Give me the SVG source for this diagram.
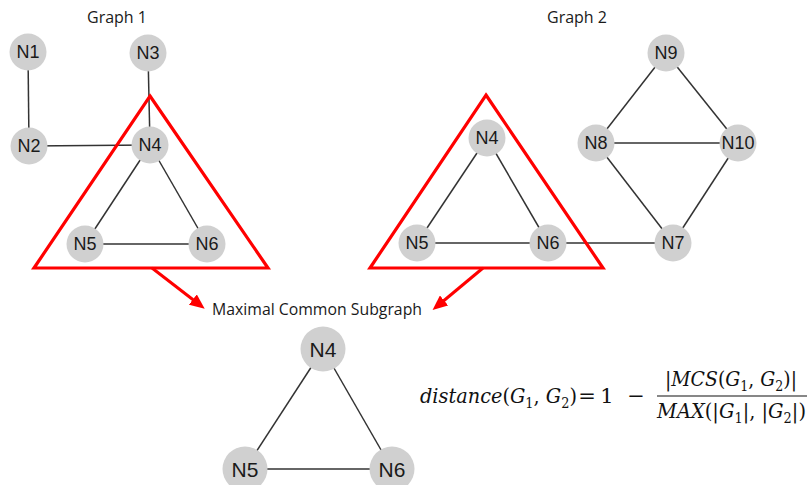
<svg xmlns="http://www.w3.org/2000/svg" width="807" height="485" viewBox="0 0 807 485">
<defs>
<style>
.edge{stroke:#333;stroke-width:1.5;fill:none}
.node circle{fill:#d0d0d0}
.node text{font-family:"Liberation Sans",Arial,sans-serif;font-size:18px;fill:#1a1a1a;text-anchor:middle;dominant-baseline:central}
.big text{font-size:21px}
.title{font-family:"Open Sans","DejaVu Sans",sans-serif;font-size:16px;fill:#1a1a1a;text-anchor:middle}
.tri{fill:none;stroke:#ff0000;stroke-width:3.2}
.arrow{stroke:#ff0000;stroke-width:3;fill:none}
.math{font-family:"DejaVu Serif","Liberation Serif",serif;font-style:italic;font-size:21px;fill:#111}
.up{font-style:normal}
.sub{font-size:14px;font-style:normal}
</style>
<marker id="ah" markerUnits="userSpaceOnUse" markerWidth="15" markerHeight="13" refX="4" refY="6.5" orient="auto">
<path d="M0,0 L15,6.5 L0,13 z" fill="#ff0000"/>
</marker>
</defs>
<rect width="807" height="485" fill="#ffffff"/>
<text class="title" x="117" y="23">Graph 1</text>
<text class="title" x="577" y="23">Graph 2</text>
<g id="connectors">
<line class="edge" x1="28" y1="52" x2="29" y2="146"/>
<line class="edge" x1="29" y1="146" x2="150" y2="145"/>
<line class="edge" x1="148" y1="53" x2="150" y2="145"/>
<line class="edge" x1="150" y1="145" x2="85" y2="244"/>
<line class="edge" x1="150" y1="145" x2="207" y2="244"/>
<line class="edge" x1="85" y1="244" x2="207" y2="244"/>
<line class="edge" x1="487" y1="138" x2="417" y2="243"/>
<line class="edge" x1="487" y1="138" x2="548" y2="243"/>
<line class="edge" x1="417" y1="243" x2="548" y2="243"/>
<line class="edge" x1="548" y1="243" x2="673" y2="243"/>
<line class="edge" x1="673" y1="243" x2="596" y2="143"/>
<line class="edge" x1="673" y1="243" x2="738" y2="143"/>
<line class="edge" x1="596" y1="143" x2="666" y2="53"/>
<line class="edge" x1="666" y1="53" x2="738" y2="143"/>
<line class="edge" x1="596" y1="143" x2="738" y2="143"/>
<line class="edge" x1="323" y1="349" x2="245" y2="469"/>
<line class="edge" x1="323" y1="349" x2="392" y2="469"/>
<line class="edge" x1="245" y1="469" x2="392" y2="469"/>
</g>
<g id="g1-N1" class="node"><circle cx="28" cy="52" r="18.5"/><text x="28" y="52">N1</text></g>
<g id="g1-N2" class="node"><circle cx="29" cy="146" r="18.5"/><text x="29" y="146">N2</text></g>
<g id="g1-N3" class="node"><circle cx="148" cy="53" r="18.5"/><text x="148" y="53">N3</text></g>
<g id="g1-N4" class="node"><circle cx="150" cy="145" r="18.5"/><text x="150" y="145">N4</text></g>
<g id="g1-N5" class="node"><circle cx="85" cy="244" r="18.5"/><text x="85" y="244">N5</text></g>
<g id="g1-N6" class="node"><circle cx="207" cy="244" r="18.5"/><text x="207" y="244">N6</text></g>
<g id="g2-N4" class="node"><circle cx="487" cy="138" r="18.5"/><text x="487" y="138">N4</text></g>
<g id="g2-N5" class="node"><circle cx="417" cy="243" r="18.5"/><text x="417" y="243">N5</text></g>
<g id="g2-N6" class="node"><circle cx="548" cy="243" r="18.5"/><text x="548" y="243">N6</text></g>
<g id="g2-N7" class="node"><circle cx="673" cy="243" r="18.5"/><text x="673" y="243">N7</text></g>
<g id="g2-N8" class="node"><circle cx="596" cy="143" r="18.5"/><text x="596" y="143">N8</text></g>
<g id="g2-N9" class="node"><circle cx="666" cy="53" r="18.5"/><text x="666" y="53">N9</text></g>
<g id="g2-N10" class="node"><circle cx="738" cy="143" r="18.5"/><text x="738" y="143">N10</text></g>
<g id="mcs-N4" class="node big"><circle cx="323" cy="349" r="22.5"/><text x="323" y="349">N4</text></g>
<g id="mcs-N5" class="node big"><circle cx="245" cy="469" r="22.5"/><text x="245" y="469">N5</text></g>
<g id="mcs-N6" class="node big"><circle cx="392" cy="469" r="22.5"/><text x="392" y="469">N6</text></g>
<g id="highlights">
<polygon class="tri" points="150,96 268,268 34,268"/>
<polygon class="tri" points="486,95 603,268 370,268"/>
<line class="arrow" x1="152" y1="268" x2="196" y2="302" marker-end="url(#ah)"/>
<line class="arrow" x1="483" y1="268" x2="441" y2="303" marker-end="url(#ah)"/>
</g>
<text class="title" x="317" y="315" textLength="210" lengthAdjust="spacingAndGlyphs">Maximal Common Subgraph</text>
<g id="formula">
<text class="math" x="420" y="403" textLength="157" lengthAdjust="spacingAndGlyphs">distance<tspan class="up">(</tspan>G<tspan class="sub" dy="5">1</tspan><tspan class="up" dy="-5">, </tspan>G<tspan class="sub" dy="5">2</tspan><tspan class="up" dy="-5">)</tspan></text>
<text class="math up" x="587" y="403" text-anchor="middle">=</text>
<text class="math up" x="607" y="403" text-anchor="middle">1</text>
<text class="math up" x="636" y="403" text-anchor="middle">−</text>
<text class="math" x="665" y="386" textLength="132" lengthAdjust="spacingAndGlyphs"><tspan class="up">|</tspan>MCS<tspan class="up">(</tspan>G<tspan class="sub" dy="5">1</tspan><tspan class="up" dy="-5">, </tspan>G<tspan class="sub" dy="5">2</tspan><tspan class="up" dy="-5">)|</tspan></text>
<line x1="657" y1="396" x2="807" y2="396" stroke="#111" stroke-width="1.2"/>
<text class="math" x="657" y="418" textLength="149" lengthAdjust="spacingAndGlyphs">MAX<tspan class="up">(|</tspan>G<tspan class="sub" dy="5">1</tspan><tspan class="up" dy="-5">|, |</tspan>G<tspan class="sub" dy="5">2</tspan><tspan class="up" dy="-5">|)</tspan></text>
</g>
</svg>
